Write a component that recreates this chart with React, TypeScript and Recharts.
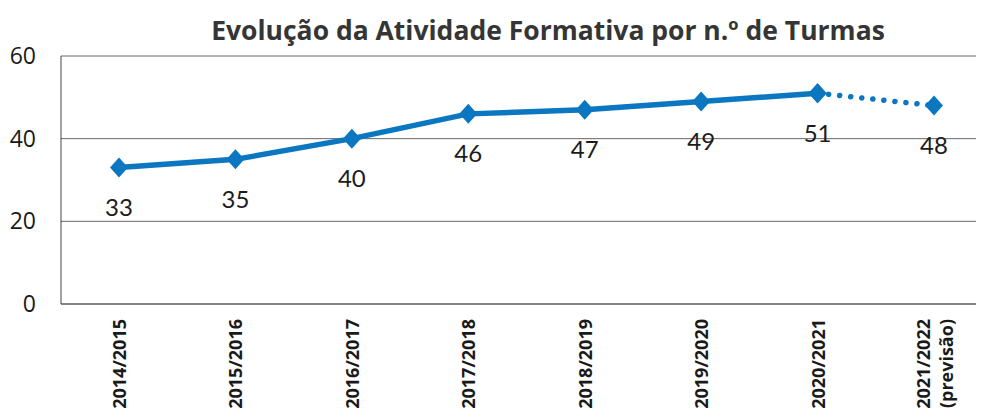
import { LineChart, Line, XAxis, YAxis, CartesianGrid, LabelList } from 'recharts'

const categories = ['2014/2015', '2015/2016', '2016/2017', '2017/2018', '2018/2019', '2019/2020', '2020/2021', '2021/2022\n(previsão)']
const turmas = [33, 35, 40, 46, 47, 49, 51, 48]
// last point is a forecast, drawn as a dotted segment
const forecastFrom = 6
const yTicks = [0, 20, 40, 60]

const BLUE = '#0b77c1'

const data = categories.map((c, i) => ({
  name: c,
  real: i <= forecastFrom ? turmas[i] : null,
  forecast: i >= forecastFrom ? turmas[i] : null,
}))

const Diamond = (props: any) => {
  const { cx, cy, value } = props
  if (value == null || cx == null) return null
  return <polygon points={`${cx},${cy - 10} ${cx + 9},${cy} ${cx},${cy + 10} ${cx - 9},${cy}`} fill={BLUE} />
}

const ValueLabel = (props: any) => {
  const { x, y, value, index, only } = props
  if (value == null) return null
  if (only === 'real' && index > forecastFrom) return null
  if (only === 'forecast' && index <= forecastFrom) return null
  return (
    <text x={x} y={y + 39} textAnchor="middle" dominantBaseline="central" fontSize={24} fill="#1c1c1c" fontFamily="Lato, sans-serif">
      {value}
    </text>
  )
}

const RotatedTick = (props: any) => {
  const { x, y, payload } = props
  const lines = String(payload.value).split('\n')
  const lh = 23
  const x0 = x + 7 - ((lines.length - 1) * lh) / 2
  return (
    <g>
      {lines.map((l, i) => (
        <text
          key={i}
          transform={`translate(${x0 + i * lh},${y + 7}) rotate(-90)`}
          textAnchor="end"
          fontSize={18}
          fontWeight={700}
          fill="#1a1a1a"
          fontFamily="'Open Sans', sans-serif"
        >
          {l}
        </text>
      ))}
    </g>
  )
}

export default function App() {
  return (
    <div style={{ position: 'relative', width: 976, height: 404, overflow: 'hidden', background: '#fff' }}>
      <div
        style={{
          position: 'absolute',
          top: 6,
          left: 540,
          transform: 'translateX(-50%)',
          whiteSpace: 'nowrap',
          fontFamily: "'Open Sans', sans-serif",
          fontWeight: 700,
          fontSize: 26.5,
          lineHeight: '32px',
          color: '#353535',
        }}
      >
        Evolução da Atividade Formativa por n.º de Turmas
      </div>
      <LineChart width={990} height={404} data={data} margin={{ top: 48, right: 6, bottom: 0, left: 0 }}>
        <CartesianGrid vertical={false} stroke="#666" strokeWidth={1} />
        <XAxis
          dataKey="name"
          interval={0}
          height={108}
          padding={{ left: 58, right: 58 }}
          tick={<RotatedTick />}
          tickLine={false}
          axisLine={{ stroke: '#555' }}
        />
        <YAxis
          domain={[0, 60]}
          ticks={yTicks}
          width={53}
          tickLine={false}
          tickSize={0}
          tickMargin={25}
          axisLine={{ stroke: '#444' }}
          tick={{ fontSize: 23, fill: '#1a1a1a', fontFamily: "'Open Sans', sans-serif" }}
        />
        <Line
          dataKey="forecast"
          stroke={BLUE}
          strokeWidth={5.5}
          strokeDasharray="0.1 11"
          strokeLinecap="round"
          dot={<Diamond />}
          activeDot={false}
          isAnimationActive={false}
          connectNulls={false}
        >
          <LabelList dataKey="forecast" content={<ValueLabel only="forecast" />} />
        </Line>
        <Line
          dataKey="real"
          stroke={BLUE}
          strokeWidth={5.5}
          dot={<Diamond />}
          activeDot={false}
          isAnimationActive={false}
          connectNulls={false}
        >
          <LabelList dataKey="real" content={<ValueLabel only="real" />} />
        </Line>
      </LineChart>
    </div>
  )
}
